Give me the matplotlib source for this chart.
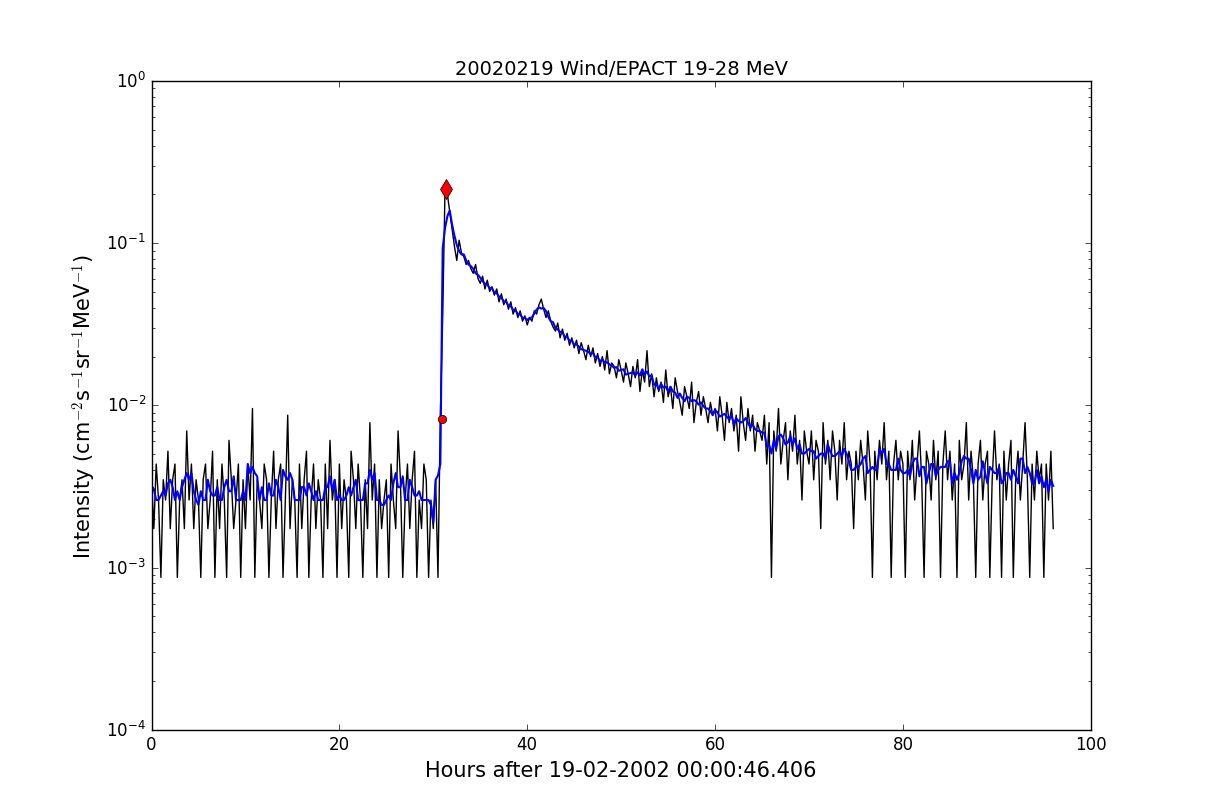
import matplotlib
matplotlib.use("Agg")
import matplotlib.pyplot as plt
import numpy as np
import pandas as pd

plt.style.use('classic')

unit = 0.00087  # intensity per count
dt = 0.25       # hours per sample
counts = [
 4,2,5,3,1,4,3,6,2,4,5,1,3,4,2,8,3,5,2,4,
 3,1,4,5,2,3,6,1,4,2,5,3,1,7,4,2,3,5,1,4,
 2,5,3,11,1,4,3,2,5,4,1,3,6,2,4,5,1,3,10,2,
 4,3,1,5,2,4,6,1,3,5,2,4,3,1,5,2,7,3,4,1,
 5,2,4,3,1,6,4,2,5,3,1,4,2,9,3,5,1,4,2,3,
 4,1,5,3,2,8,4,1,3,5,2,4,6,1,3,2,5,4,1,3,
 2,4,1,10,40,253,230,180,140,110,90,120,100,95,85,90,80,75,85,70,
 65,72,60,68,58,62,55,60,50,56,48,52,45,50,42,46,40,44,38,41,
 36,40,38,44,42,48,52,45,40,44,38,35,33,37,30,34,29,32,27,30,
 26,29,24,28,25,22,27,23,26,21,24,20,23,19,25,18,21,20,17,22,
 19,16,21,18,15,20,17,22,14,19,16,25,15,18,13,17,14,16,12,19,
 13,15,11,17,14,12,10,15,13,11,16,9,12,14,10,13,11,9,12,10,
 11,8,13,10,7,12,9,11,8,10,6,13,9,7,11,8,10,6,9,8,
 7,10,5,9,1,8,6,11,5,7,9,4,8,6,10,5,7,3,8,6,
 5,8,4,7,6,2,9,5,7,4,8,6,3,7,5,9,4,6,5,2,
 6,4,7,5,3,8,5,1,6,4,7,5,9,4,6,1,5,7,4,6,
 5,1,6,4,7,3,5,8,4,1,6,5,3,7,4,6,1,5,8,4,
 6,3,5,1,7,4,5,9,3,6,4,1,5,7,3,5,6,1,4,8,
 4,5,1,6,3,5,7,1,4,6,3,5,9,4,1,5,3,6,4,5,
 1,5,3,6,2,
]
onset_t, onset_i = 30.9, 0.0082
peak_t, peak_i = 31.4, 0.215

t = np.arange(len(counts)) * dt
inten = np.array(counts) * unit
smooth = pd.Series(inten).rolling(5, center=True, min_periods=1).mean().values
# keep sharp rise in smoothed curve
smooth[:124] = pd.Series(inten[:124]).rolling(5, center=True, min_periods=1).mean().values

fig = plt.figure(figsize=(12.12, 8.12), dpi=100)
ax = fig.add_axes([0.125, 0.1, 0.775, 0.799])
ax.plot(t, inten, color='k', lw=1)
ax.plot(t, smooth, color='b', lw=1.5)
ax.plot([onset_t], [onset_i], 'o', color='r', ms=6)
ax.plot([peak_t], [peak_i], 'd', color='r', ms=10)
ax.set_yscale('log')
ax.set_xlim(0, 100)
ax.set_ylim(1e-4, 1)
ax.set_title('20020219 Wind/EPACT 19-28 MeV', fontsize=14)
ax.set_xlabel('Hours after 19-02-2002 00:00:46.406', fontsize=15)
ax.set_ylabel(r'Intensity (cm$^{-2}$s$^{-1}$sr$^{-1}$MeV$^{-1}$)', fontsize=15)
fig.savefig('out.png', dpi=100, facecolor='white')
